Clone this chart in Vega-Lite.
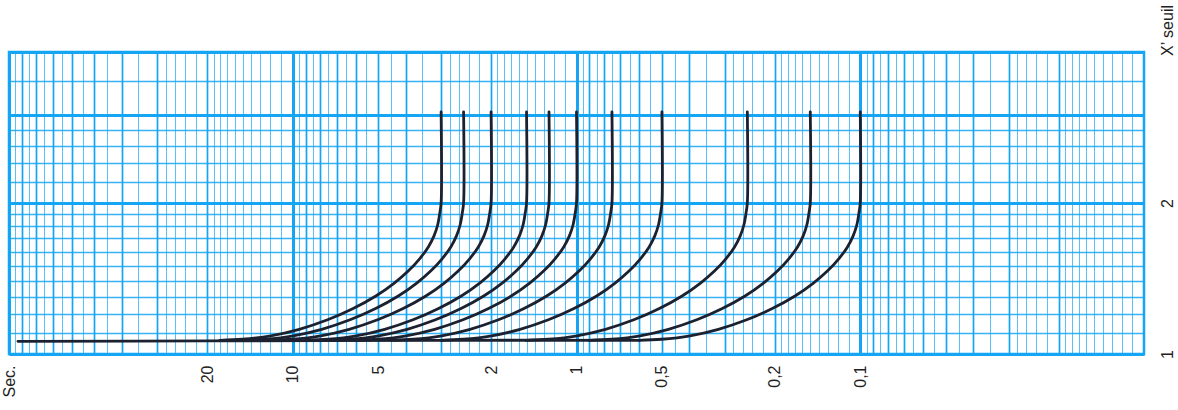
{
  "$schema": "https://vega.github.io/schema/vega-lite/v6.json",
  "autosize": "none",
  "width": 1135,
  "height": 302,
  "padding": {"left": 9, "top": 52, "right": 34, "bottom": 56},
  "background": "white",
  "config": {
    "view": {"stroke": "#14a5f5", "strokeWidth": 2.5},
    "font": "Liberation Sans"
  },
  "data": {
    "values": [
      {"curve": "3", "sec": 3, "ratio": 3.04}, {"curve": "3", "sec": 3, "ratio": 2.0}, {"curve": "3", "sec": 3.0278, "ratio": 1.92}, {"curve": "3", "sec": 3.084, "ratio": 1.81}, {"curve": "3", "sec": 3.178, "ratio": 1.72}, {"curve": "3", "sec": 3.328, "ratio": 1.635}, {"curve": "3", "sec": 3.566, "ratio": 1.55}, {"curve": "3", "sec": 3.91, "ratio": 1.465}, {"curve": "3", "sec": 4.387, "ratio": 1.385}, {"curve": "3", "sec": 5.095, "ratio": 1.305}, {"curve": "3", "sec": 6.125, "ratio": 1.232}, {"curve": "3", "sec": 7.536, "ratio": 1.17}, {"curve": "3", "sec": 9.487, "ratio": 1.12}, {"curve": "3", "sec": 11.943, "ratio": 1.087}, {"curve": "3", "sec": 15.036, "ratio": 1.07}, {"curve": "3", "sec": 18.077, "ratio": 1.065},
      {"curve": "2.5", "sec": 2.5, "ratio": 3.04}, {"curve": "2.5", "sec": 2.5, "ratio": 2.0}, {"curve": "2.5", "sec": 2.5231, "ratio": 1.92}, {"curve": "2.5", "sec": 2.57, "ratio": 1.81}, {"curve": "2.5", "sec": 2.648, "ratio": 1.72}, {"curve": "2.5", "sec": 2.773, "ratio": 1.635}, {"curve": "2.5", "sec": 2.971, "ratio": 1.55}, {"curve": "2.5", "sec": 3.258, "ratio": 1.465}, {"curve": "2.5", "sec": 3.656, "ratio": 1.385}, {"curve": "2.5", "sec": 4.246, "ratio": 1.305}, {"curve": "2.5", "sec": 5.104, "ratio": 1.232}, {"curve": "2.5", "sec": 6.28, "ratio": 1.17}, {"curve": "2.5", "sec": 7.906, "ratio": 1.12}, {"curve": "2.5", "sec": 9.953, "ratio": 1.087}, {"curve": "2.5", "sec": 12.53, "ratio": 1.07}, {"curve": "2.5", "sec": 15.064, "ratio": 1.065},
      {"curve": "2", "sec": 2, "ratio": 3.04}, {"curve": "2", "sec": 2, "ratio": 2.0}, {"curve": "2", "sec": 2.0185, "ratio": 1.92}, {"curve": "2", "sec": 2.056, "ratio": 1.81}, {"curve": "2", "sec": 2.119, "ratio": 1.72}, {"curve": "2", "sec": 2.218, "ratio": 1.635}, {"curve": "2", "sec": 2.377, "ratio": 1.55}, {"curve": "2", "sec": 2.606, "ratio": 1.465}, {"curve": "2", "sec": 2.924, "ratio": 1.385}, {"curve": "2", "sec": 3.396, "ratio": 1.305}, {"curve": "2", "sec": 4.083, "ratio": 1.232}, {"curve": "2", "sec": 5.024, "ratio": 1.17}, {"curve": "2", "sec": 6.325, "ratio": 1.12}, {"curve": "2", "sec": 7.962, "ratio": 1.087}, {"curve": "2", "sec": 10.024, "ratio": 1.07}, {"curve": "2", "sec": 12.051, "ratio": 1.065},
      {"curve": "1.5", "sec": 1.5, "ratio": 3.04}, {"curve": "1.5", "sec": 1.5, "ratio": 2.0}, {"curve": "1.5", "sec": 1.5139, "ratio": 1.92}, {"curve": "1.5", "sec": 1.542, "ratio": 1.81}, {"curve": "1.5", "sec": 1.589, "ratio": 1.72}, {"curve": "1.5", "sec": 1.664, "ratio": 1.635}, {"curve": "1.5", "sec": 1.783, "ratio": 1.55}, {"curve": "1.5", "sec": 1.955, "ratio": 1.465}, {"curve": "1.5", "sec": 2.193, "ratio": 1.385}, {"curve": "1.5", "sec": 2.547, "ratio": 1.305}, {"curve": "1.5", "sec": 3.063, "ratio": 1.232}, {"curve": "1.5", "sec": 3.768, "ratio": 1.17}, {"curve": "1.5", "sec": 4.743, "ratio": 1.12}, {"curve": "1.5", "sec": 5.972, "ratio": 1.087}, {"curve": "1.5", "sec": 7.518, "ratio": 1.07}, {"curve": "1.5", "sec": 9.038, "ratio": 1.065},
      {"curve": "1.25", "sec": 1.25, "ratio": 3.04}, {"curve": "1.25", "sec": 1.25, "ratio": 2.0}, {"curve": "1.25", "sec": 1.2616, "ratio": 1.92}, {"curve": "1.25", "sec": 1.285, "ratio": 1.81}, {"curve": "1.25", "sec": 1.324, "ratio": 1.72}, {"curve": "1.25", "sec": 1.3865, "ratio": 1.635}, {"curve": "1.25", "sec": 1.486, "ratio": 1.55}, {"curve": "1.25", "sec": 1.629, "ratio": 1.465}, {"curve": "1.25", "sec": 1.828, "ratio": 1.385}, {"curve": "1.25", "sec": 2.123, "ratio": 1.305}, {"curve": "1.25", "sec": 2.552, "ratio": 1.232}, {"curve": "1.25", "sec": 3.14, "ratio": 1.17}, {"curve": "1.25", "sec": 3.953, "ratio": 1.12}, {"curve": "1.25", "sec": 4.976, "ratio": 1.087}, {"curve": "1.25", "sec": 6.265, "ratio": 1.07}, {"curve": "1.25", "sec": 7.532, "ratio": 1.065},
      {"curve": "1", "sec": 1, "ratio": 3.04}, {"curve": "1", "sec": 1, "ratio": 2.0}, {"curve": "1", "sec": 1.00925, "ratio": 1.92}, {"curve": "1", "sec": 1.028, "ratio": 1.81}, {"curve": "1", "sec": 1.0593, "ratio": 1.72}, {"curve": "1", "sec": 1.1092, "ratio": 1.635}, {"curve": "1", "sec": 1.1885, "ratio": 1.55}, {"curve": "1", "sec": 1.3032, "ratio": 1.465}, {"curve": "1", "sec": 1.4622, "ratio": 1.385}, {"curve": "1", "sec": 1.6982, "ratio": 1.305}, {"curve": "1", "sec": 2.0417, "ratio": 1.232}, {"curve": "1", "sec": 2.5119, "ratio": 1.17}, {"curve": "1", "sec": 3.1623, "ratio": 1.12}, {"curve": "1", "sec": 3.9811, "ratio": 1.087}, {"curve": "1", "sec": 5.0119, "ratio": 1.07}, {"curve": "1", "sec": 6.0256, "ratio": 1.065},
      {"curve": "0.75", "sec": 0.75, "ratio": 3.04}, {"curve": "0.75", "sec": 0.75, "ratio": 2.0}, {"curve": "0.75", "sec": 0.7569, "ratio": 1.92}, {"curve": "0.75", "sec": 0.771, "ratio": 1.81}, {"curve": "0.75", "sec": 0.7945, "ratio": 1.72}, {"curve": "0.75", "sec": 0.8319, "ratio": 1.635}, {"curve": "0.75", "sec": 0.8914, "ratio": 1.55}, {"curve": "0.75", "sec": 0.9774, "ratio": 1.465}, {"curve": "0.75", "sec": 1.0967, "ratio": 1.385}, {"curve": "0.75", "sec": 1.2737, "ratio": 1.305}, {"curve": "0.75", "sec": 1.5313, "ratio": 1.232}, {"curve": "0.75", "sec": 1.8839, "ratio": 1.17}, {"curve": "0.75", "sec": 2.3717, "ratio": 1.12}, {"curve": "0.75", "sec": 2.9858, "ratio": 1.087}, {"curve": "0.75", "sec": 3.7589, "ratio": 1.07}, {"curve": "0.75", "sec": 4.5192, "ratio": 1.065},
      {"curve": "0.5", "sec": 0.5, "ratio": 3.04}, {"curve": "0.5", "sec": 0.5, "ratio": 2.0}, {"curve": "0.5", "sec": 0.5046, "ratio": 1.92}, {"curve": "0.5", "sec": 0.514, "ratio": 1.81}, {"curve": "0.5", "sec": 0.5297, "ratio": 1.72}, {"curve": "0.5", "sec": 0.5546, "ratio": 1.635}, {"curve": "0.5", "sec": 0.5943, "ratio": 1.55}, {"curve": "0.5", "sec": 0.6516, "ratio": 1.465}, {"curve": "0.5", "sec": 0.7311, "ratio": 1.385}, {"curve": "0.5", "sec": 0.8491, "ratio": 1.305}, {"curve": "0.5", "sec": 1.0209, "ratio": 1.232}, {"curve": "0.5", "sec": 1.256, "ratio": 1.17}, {"curve": "0.5", "sec": 1.5812, "ratio": 1.12}, {"curve": "0.5", "sec": 1.9906, "ratio": 1.087}, {"curve": "0.5", "sec": 2.506, "ratio": 1.07}, {"curve": "0.5", "sec": 3.0128, "ratio": 1.065},
      {"curve": "0.25", "sec": 0.25, "ratio": 3.04}, {"curve": "0.25", "sec": 0.25, "ratio": 2.0}, {"curve": "0.25", "sec": 0.2523, "ratio": 1.92}, {"curve": "0.25", "sec": 0.257, "ratio": 1.81}, {"curve": "0.25", "sec": 0.2648, "ratio": 1.72}, {"curve": "0.25", "sec": 0.2773, "ratio": 1.635}, {"curve": "0.25", "sec": 0.2971, "ratio": 1.55}, {"curve": "0.25", "sec": 0.3258, "ratio": 1.465}, {"curve": "0.25", "sec": 0.3656, "ratio": 1.385}, {"curve": "0.25", "sec": 0.4246, "ratio": 1.305}, {"curve": "0.25", "sec": 0.5104, "ratio": 1.232}, {"curve": "0.25", "sec": 0.628, "ratio": 1.17}, {"curve": "0.25", "sec": 0.7906, "ratio": 1.12}, {"curve": "0.25", "sec": 0.9953, "ratio": 1.087}, {"curve": "0.25", "sec": 1.253, "ratio": 1.07}, {"curve": "0.25", "sec": 1.5064, "ratio": 1.065},
      {"curve": "0.15", "sec": 0.15, "ratio": 3.04}, {"curve": "0.15", "sec": 0.15, "ratio": 2.0}, {"curve": "0.15", "sec": 0.1514, "ratio": 1.92}, {"curve": "0.15", "sec": 0.1542, "ratio": 1.81}, {"curve": "0.15", "sec": 0.1589, "ratio": 1.72}, {"curve": "0.15", "sec": 0.1664, "ratio": 1.635}, {"curve": "0.15", "sec": 0.1783, "ratio": 1.55}, {"curve": "0.15", "sec": 0.1955, "ratio": 1.465}, {"curve": "0.15", "sec": 0.2193, "ratio": 1.385}, {"curve": "0.15", "sec": 0.2547, "ratio": 1.305}, {"curve": "0.15", "sec": 0.3063, "ratio": 1.232}, {"curve": "0.15", "sec": 0.3768, "ratio": 1.17}, {"curve": "0.15", "sec": 0.4743, "ratio": 1.12}, {"curve": "0.15", "sec": 0.5972, "ratio": 1.087}, {"curve": "0.15", "sec": 0.7518, "ratio": 1.07}, {"curve": "0.15", "sec": 0.9038, "ratio": 1.065},
      {"curve": "0.1", "sec": 0.1, "ratio": 3.04}, {"curve": "0.1", "sec": 0.1, "ratio": 2.0}, {"curve": "0.1", "sec": 0.10093, "ratio": 1.92}, {"curve": "0.1", "sec": 0.1028, "ratio": 1.81}, {"curve": "0.1", "sec": 0.10593, "ratio": 1.72}, {"curve": "0.1", "sec": 0.11092, "ratio": 1.635}, {"curve": "0.1", "sec": 0.11885, "ratio": 1.55}, {"curve": "0.1", "sec": 0.13032, "ratio": 1.465}, {"curve": "0.1", "sec": 0.14622, "ratio": 1.385}, {"curve": "0.1", "sec": 0.16982, "ratio": 1.305}, {"curve": "0.1", "sec": 0.20417, "ratio": 1.232}, {"curve": "0.1", "sec": 0.25119, "ratio": 1.17}, {"curve": "0.1", "sec": 0.31623, "ratio": 1.12}, {"curve": "0.1", "sec": 0.39811, "ratio": 1.087}, {"curve": "0.1", "sec": 0.50119, "ratio": 1.07}, {"curve": "0.1", "sec": 0.60256, "ratio": 1.065},
      {"curve": "base", "sec": 93, "ratio": 1.06}, {"curve": "base", "sec": 20, "ratio": 1.062}, {"curve": "base", "sec": 3, "ratio": 1.065}, {"curve": "base", "sec": 0.6, "ratio": 1.065}
    ]
  },
  "layer": [
    {
      "mark": {"type": "point", "opacity": 0},
      "encoding": {
        "x": {"field": "sec", "type": "quantitative", "scale": {"type": "log", "domain": [0.01, 100], "reverse": true, "nice": false},
          "axis": {"orient": "top", "values": [0.011,0.012,0.013,0.014,0.015,0.016,0.017,0.018,0.019,0.022,0.024,0.026,0.028,0.035,0.045,0.055,0.065,0.075,0.085,0.095,0.11,0.12,0.13,0.14,0.15,0.16,0.17,0.18,0.19,0.22,0.24,0.26,0.28,0.35,0.45,0.55,0.65,0.75,0.85,0.95,1.1,1.2,1.3,1.4,1.5,1.6,1.7,1.8,1.9,2.2,2.4,2.6,2.8,3.5,4.5,5.5,6.5,7.5,8.5,9.5,11,12,13,14,15,16,17,18,19,22,24,26,28,35,45,55,65,75,85,95],
            "grid": true, "gridColor": "#14a5f5", "gridWidth": 1, "gridOpacity": 0.7, "labels": false, "ticks": false, "domain": false, "title": null}},
        "y": {"field": "ratio", "type": "quantitative", "scale": {"type": "log", "domain": [1, 4], "nice": false},
          "axis": {"orient": "left", "values": [1.1,1.2,1.3,1.4,1.5,1.6,1.7,1.8,1.9,2.2,2.4,2.6,2.8,3.5],
            "grid": true, "gridColor": "#14a5f5", "gridWidth": 1.4, "gridOpacity": 0.85, "labels": false, "ticks": false, "domain": false, "title": null}}
      }
    },
    {
      "mark": {"type": "point", "opacity": 0},
      "encoding": {
        "x": {"field": "sec", "type": "quantitative", "scale": {"type": "log", "domain": [0.01, 100], "reverse": true, "nice": false},
          "axis": {"orient": "top", "values": [0.02,0.03,0.04,0.05,0.06,0.07,0.08,0.09,0.2,0.3,0.4,0.5,0.6,0.7,0.8,0.9,2,3,4,5,6,7,8,9,20,30,40,50,60,70,80,90],
            "grid": true, "gridColor": "#14a5f5", "gridWidth": 1.7, "gridOpacity": 1, "labels": false, "ticks": false, "domain": false, "title": null}},
        "y": {"field": "ratio", "type": "quantitative", "scale": {"type": "log", "domain": [1, 4], "nice": false},
          "axis": {"orient": "left", "values": [1, 2, 3, 4],
            "grid": true, "gridColor": "#14a5f5", "gridWidth": 3, "gridOpacity": 1, "labels": false, "ticks": false, "domain": false, "title": null}}
      }
    },
    {
      "mark": {"type": "point", "opacity": 0},
      "encoding": {
        "x": {"field": "sec", "type": "quantitative", "scale": {"type": "log", "domain": [0.01, 100], "reverse": true, "nice": false},
          "axis": {"orient": "top", "values": [0.1, 1, 10, 100],
            "grid": true, "gridColor": "#14a5f5", "gridWidth": 3, "gridOpacity": 1, "labels": false, "ticks": false, "domain": false, "title": null}}
      }
    },
    {
      "mark": {"type": "line", "color": "#1c2130", "strokeWidth": 2.8, "strokeCap": "round", "strokeJoin": "round", "interpolate": "catmull-rom"},
      "encoding": {
        "x": {"field": "sec", "type": "quantitative", "scale": {"type": "log", "domain": [0.01, 100], "reverse": true, "nice": false},
          "axis": {"orient": "bottom", "values": [100, 20, 10, 5, 2, 1, 0.5, 0.2, 0.1],
            "labelExpr": "datum.value == 100 ? 'Sec.' : replace(format(datum.value, '~g'), '.', ',')",
            "labelAngle": 270, "labelAlign": "right", "labelBaseline": "middle", "labelPadding": 11,
            "labelFont": "Liberation Sans", "labelFontSize": 16, "labelColor": "#222222",
            "labelOverlap": false, "labelFlush": false, "labelBound": false,
            "ticks": false, "domain": false, "grid": false, "title": null}},
        "y": {"field": "ratio", "type": "quantitative", "scale": {"type": "log", "domain": [1, 4], "nice": false},
          "axis": {"orient": "right", "values": [1, 2],
            "labelAngle": 270, "labelAlign": "center", "labelBaseline": "top", "labelPadding": 15,
            "labelFont": "Liberation Sans", "labelFontSize": 16, "labelColor": "#222222",
            "labelOverlap": false, "labelFlush": false, "labelBound": false,
            "ticks": false, "domain": false, "grid": false,
            "title": "X’ seuil", "titleAngle": 270, "titleX": 15, "titleY": -22, "titleAlign": "center", "titleBaseline": "top",
            "titleFont": "Liberation Sans", "titleFontSize": 16, "titleFontWeight": "normal", "titleColor": "#222222"}},
        "detail": {"field": "curve"},
        "order": {"value": null}
      }
    }
  ],
  "resolve": {"axis": {"x": "independent", "y": "independent"}}
}
